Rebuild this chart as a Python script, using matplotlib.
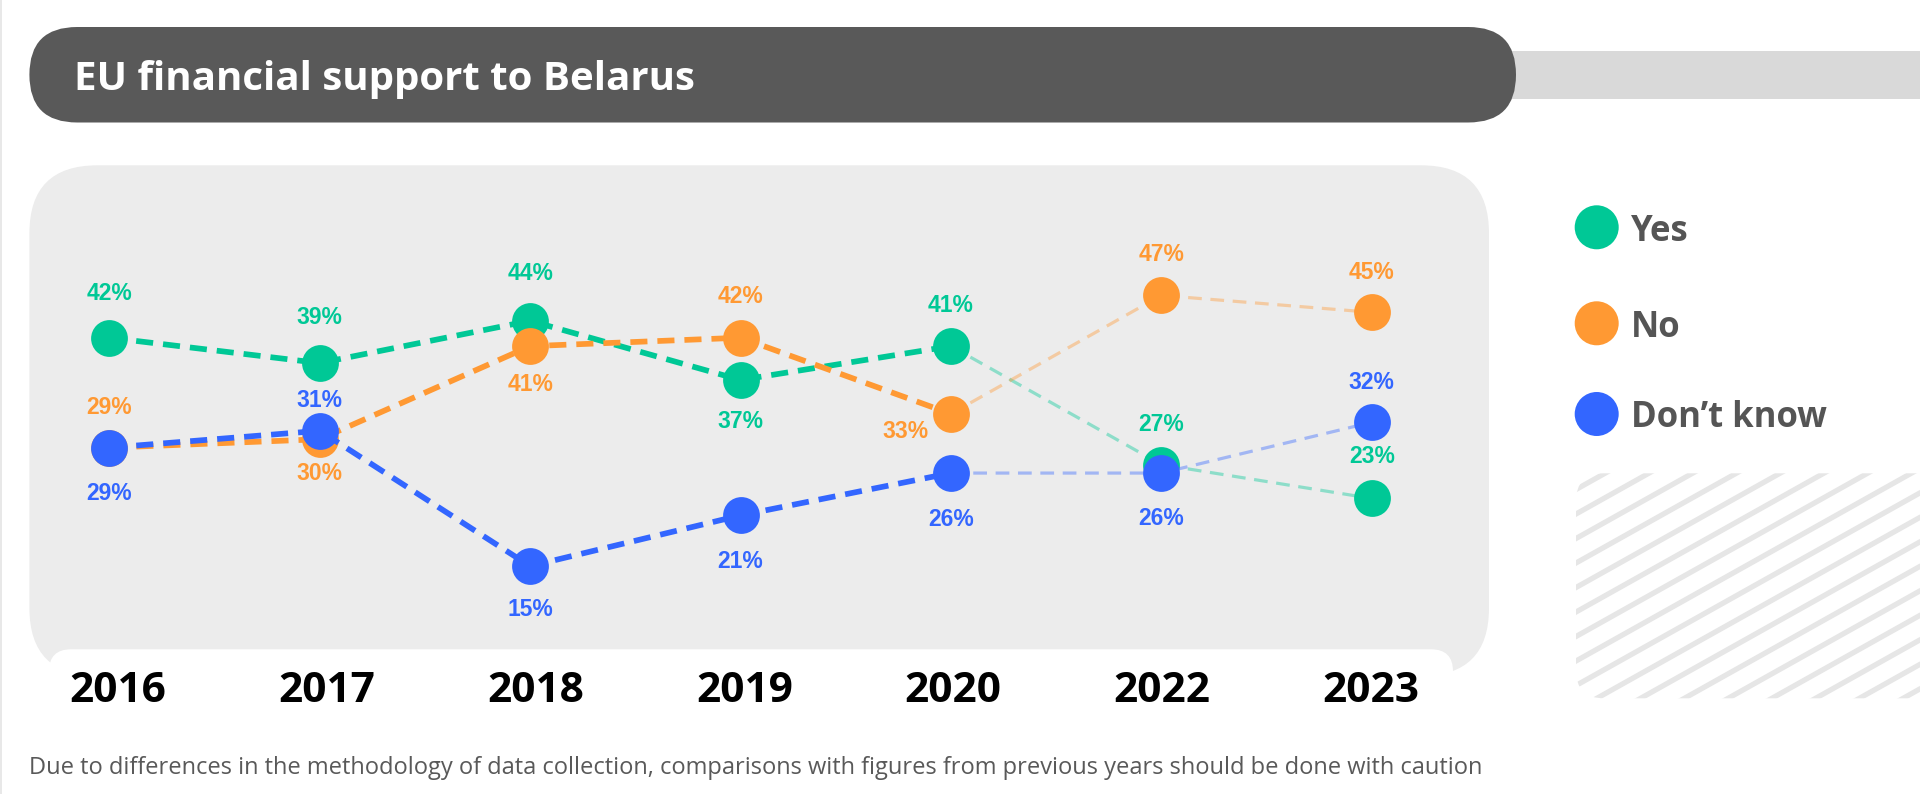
import matplotlib
matplotlib.use('Agg')
import matplotlib.pyplot as plt
from matplotlib.patches import FancyBboxPatch, Circle, Rectangle
from matplotlib.transforms import blended_transform_factory
import numpy as np

# ---------------- data ----------------
years = ['2016', '2017', '2018', '2019', '2020', '2022', '2023']
yes = [42, 39, 44, 37, 41, 27, 23]
no = [29, 30, 41, 42, 33, 47, 45]
dont_know = [29, 31, 15, 21, 26, 26, 32]
series_names = ['Yes', 'No', 'Don\u2019t know']
title = 'EU financial support to Belarus'
note = ('Due to differences in the methodology of data collection, comparisons '
        'with figures from previous years should be done with caution')

# ---------------- style ----------------
colors = ['#00C896', '#FF9933', '#3366FF']
# label offsets (pixels) relative to each marker: (dx, dy) dy>0 = up
label_offsets = [
    [(0, 44), (0, 46), (0, 47), (0, -42), (0, 41), (0, 40), (0, 42)],
    [(0, 40), (0, -34), (0, -38), (0, 41), (-45, -18), (0, 41), (0, 40)],
    [(0, -46), (0, 30), (0, -43), (0, -46), (0, -46), (0, -45), (0, 40)],
]

W, H = 1920, 794
fig = plt.figure(figsize=(W / 100, H / 100), dpi=100)
fig.patch.set_facecolor('white')

bg = fig.add_axes([0, 0, 1, 1])
bg.set_xlim(0, W)
bg.set_ylim(H, 0)
bg.axis('off')

# left thin border
bg.plot([1, 1], [0, H], color='#e4e4e4', lw=1.2, zorder=0)

# title bar
bg.add_patch(Rectangle((1400, 51.4), 560, 47.2, fc='#d9d9d9', ec='none', zorder=1))
bg.add_patch(FancyBboxPatch((29.4, 27.0), 1486.6, 95.5,
                            boxstyle='round,pad=0,rounding_size=47.7',
                            fc='#595959', ec='none', zorder=2))
renderer = fig.canvas.get_renderer()


def fit_width(t, target):
    w = t.get_window_extent(renderer).width
    t.set_fontsize(t.get_fontsize() * target / w)


tt = bg.text(74, 90, title, color='white', fontsize=28, fontweight='bold',
             family='Open Sans', ha='left', va='baseline', zorder=3)
fit_width(tt, 620)

# chart panel
bg.add_patch(FancyBboxPatch((29.4, 165.3), 1459.6, 510.7,
                            boxstyle='round,pad=0,rounding_size=68',
                            fc='#ececec', ec='none', zorder=1))
bg.add_patch(FancyBboxPatch((49, 649.3), 1404, 130,
                            boxstyle='round,pad=0,rounding_size=22',
                            fc='white', ec='none', zorder=1.5))

# hatched box on the right
hbox = FancyBboxPatch((1576, 473.3), 420, 225,
                      boxstyle='round,pad=0,rounding_size=28',
                      fc='white', ec='none', zorder=1)
bg.add_patch(hbox)
slope = 0.56
xs = np.array([1560, 1940])
for k in range(-2, 30):
    y0 = 465 + k * 24.5
    ln, = bg.plot(xs, y0 - slope * (xs - 1576), color='#e6e6e6', lw=3.8,
                  solid_capstyle='butt', zorder=1.2)
    ln.set_clip_path(hbox)

# legend
leg_y = [227.3, 323.3, 414.0]
leg_texts = []
for name, c, y in zip(series_names, colors, leg_y):
    bg.add_patch(Circle((1596.7, y), 22, fc=c, ec='none', zorder=3))
    leg_texts.append(bg.text(1631, y + 13.3, name, color='#555555', fontsize=25,
                             fontweight='bold', family='Open Sans',
                             ha='left', va='baseline', zorder=3))
w_dk = leg_texts[2].get_window_extent(renderer).width
fs_leg = leg_texts[2].get_fontsize() * 196 / w_dk
for t in leg_texts:
    t.set_fontsize(fs_leg)

# footnote
ft = bg.text(29, 774, note, color='#595959', fontsize=15, family='Open Sans',
             ha='left', va='baseline', zorder=3)
fit_width(ft, 1450)

# ---------------- data axes ----------------
ax = fig.add_axes([0, 0, 1, 1])
ax.patch.set_alpha(0)
ax.axis('off')
x0_px, dx_px = 109.3, 210.4
ax.set_xlim(-x0_px / dx_px, (W - x0_px) / dx_px)
y42_px, dy_px = 337.7, 8.46
ax.set_ylim(42 - (H - y42_px) / dy_px, 42 + y42_px / dy_px)

# category axis for the year labels (slightly different spacing)
lab_ax = fig.add_axes([0, 0, 1, 1])
lab_ax.patch.set_alpha(0)
lab_ax.axis('off')
lx0_px, ldx_px = 117.3, 209.0
lab_ax.set_xlim(-lx0_px / ldx_px, (W - lx0_px) / ldx_px)

x = np.arange(len(years))
all_series = [yes, no, dont_know]

for k, (vals, c) in enumerate(zip(all_series, colors)):
    vals = np.array(vals, dtype=float)
    # faint part (2020 -> 2022 -> 2023)
    ax.plot(x[4:], vals[4:], color=c, alpha=0.4, lw=2.3, dashes=(4.3, 2.7),
            zorder=2 + 3 * k)
    # strong dashed part (2016 -> 2020)
    ax.plot(x[:5], vals[:5], color=c, lw=4.1, dashes=(3.0, 1.75),
            zorder=3 + 3 * k)
    ax.plot(x, vals, 'o', color=c, ms=26.5, mec='none', zorder=4 + 3 * k,
            clip_on=False)
    for i, v in enumerate(vals):
        dx, dy = label_offsets[k][i]
        ax.annotate(f'{int(v)}%', (x[i], v), xytext=(dx, dy),
                    textcoords='offset pixels', ha='center', va='center',
                    color=c, fontsize=16.5, fontweight='bold',
                    family='Liberation Sans', zorder=20)

# year labels
trans = blended_transform_factory(lab_ax.transData, bg.transData)
for i, yr in enumerate(years):
    lab_ax.text(x[i], 701.7, yr, transform=trans, ha='center', va='baseline',
                fontsize=30.5, fontweight='bold', family='Open Sans',
                color='black', zorder=20)

fig.savefig('out.png', dpi=100, facecolor='white')
